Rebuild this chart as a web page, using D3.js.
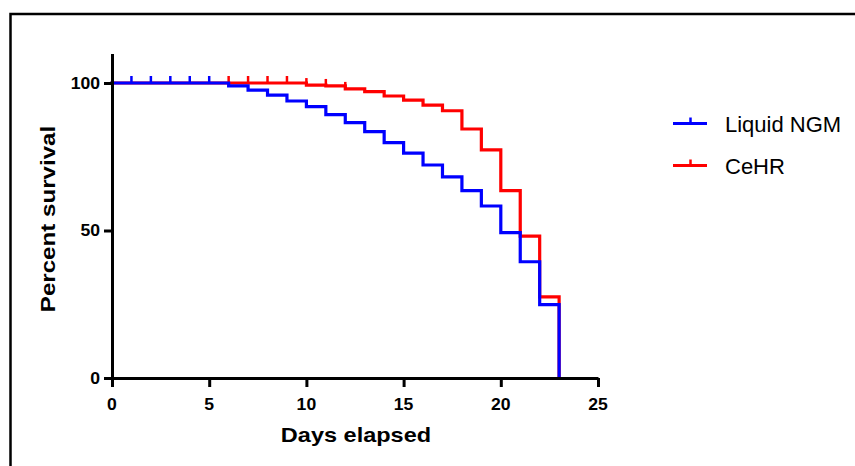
<!DOCTYPE html>
<html>
<head>
<meta charset="utf-8">
<script src="https://cdn.jsdelivr.net/npm/d3@7/dist/d3.min.js"></script>
<style>
  html, body { margin: 0; padding: 0; background: #fff; }
  svg { display: block; }
  text { font-family: "Liberation Sans", Arial, Helvetica, sans-serif; }
</style>
</head>
<body>
<svg id="chart" width="855" height="466"></svg>
<script>
// ---- Data ----
const seriesNames = ["Liquid NGM", "CeHR"];
const seriesColors = ["#0000FF", "#FF0000"];

// Step points: [day, percent survival] (value holds until the next day)
const liquidDays = [0, 6, 7, 8, 9, 10, 11, 12, 13, 14, 15, 16, 17, 18, 19, 20, 21, 22, 23];
const liquidSurvival = [100, 99.0, 97.6, 95.9, 93.9, 92.0, 89.3, 86.6, 83.5, 79.8, 76.2, 72.2, 68.2, 63.5, 58.3, 49.3, 39.4, 24.9, 0];
const liquidCensorDays = [1, 2, 3, 4, 5];

const cehrDays = [0, 10, 11, 12, 13, 14, 15, 16, 17, 18, 19, 20, 21, 22, 23];
const cehrSurvival = [100, 99.3, 99.0, 98.0, 97.1, 95.6, 94.2, 92.5, 90.6, 84.4, 77.3, 63.5, 48.1, 27.5, 0];
const cehrCensorDays = [6, 7, 8, 9, 10, 11, 12];

const xTicks = [0, 5, 10, 15, 20, 25];
const yTicks = [0, 50, 100];
const xLabel = "Days elapsed";
const yLabel = "Percent survival";

// ---- Drawing ----
const svg = d3.select("#chart");

// outer frame (top and left edges visible)
svg.append("path")
  .attr("d", "M10.5,466 L10.5,14 L855,14")
  .attr("fill", "none").attr("stroke", "#000").attr("stroke-width", 2.5);

const x = d3.scaleLinear().domain([0, 25]).range([112, 598]);
const y = d3.scaleLinear().domain([0, 110]).range([378, 53.5]);

function survAt(days, vals, t) {
  let v = vals[0];
  for (let i = 0; i < days.length; i++) if (days[i] <= t) v = vals[i];
  return v;
}

const line = d3.line().x(d => x(d[0])).y(d => y(d[1])).curve(d3.curveStepAfter);

const series = [
  { days: cehrDays, vals: cehrSurvival, censor: cehrCensorDays, color: seriesColors[1] },
  { days: liquidDays, vals: liquidSurvival, censor: liquidCensorDays, color: seriesColors[0] }
];

series.forEach(s => {
  const pts = s.days.map((d, i) => [d, s.vals[i]]);
  svg.append("path")
    .attr("d", line(pts))
    .attr("fill", "none")
    .attr("stroke", s.color)
    .attr("stroke-width", 3.2)
    .attr("stroke-linejoin", "miter")
    .attr("stroke-linecap", "square");
  svg.append("g").selectAll("line").data(s.censor).join("line")
    .attr("x1", d => x(d)).attr("x2", d => x(d))
    .attr("y1", d => y(survAt(s.days, s.vals, d)))
    .attr("y2", d => y(survAt(s.days, s.vals, d)) - 7)
    .attr("stroke", s.color).attr("stroke-width", 2.5);
});

// axes
const xAxis = svg.append("g").attr("transform", "translate(0,378)")
  .call(d3.axisBottom(x).tickValues(xTicks).tickSize(9).tickSizeOuter(0).tickFormat(""));
const yAxis = svg.append("g").attr("transform", "translate(112,0)")
  .call(d3.axisLeft(y).tickValues(yTicks).tickSize(8).tickSizeOuter(0).tickFormat(""));
[xAxis, yAxis].forEach(g => {
  g.select(".domain").attr("stroke", "#000").attr("stroke-width", 3);
  g.selectAll(".tick line").attr("stroke", "#000").attr("stroke-width", 3);
});

// tick labels
svg.append("g").selectAll("text").data(xTicks).join("text")
  .attr("transform", d => `translate(${x(d)},409.5) scale(1.1,1)`)
  .attr("text-anchor", "middle")
  .attr("font-size", 16).attr("font-weight", "bold").attr("fill", "#000")
  .text(d => d);

svg.append("g").selectAll("text").data(yTicks).join("text")
  .attr("transform", d => `translate(100,${y(d) + 5.5}) scale(1.1,1)`)
  .attr("text-anchor", "end")
  .attr("font-size", 16).attr("font-weight", "bold").attr("fill", "#000")
  .text(d => d);

// axis titles
svg.append("text")
  .attr("transform", "translate(356,442) scale(1.12,1)")
  .attr("text-anchor", "middle")
  .attr("font-size", 21).attr("font-weight", "bold").attr("fill", "#000")
  .text(xLabel);

svg.append("text")
  .attr("transform", "translate(55,219) rotate(-90) scale(1.15,1)")
  .attr("text-anchor", "middle")
  .attr("font-size", 21).attr("font-weight", "bold").attr("fill", "#000")
  .text(yLabel);

// legend
const legendY = [123.5, 165.5];
seriesNames.forEach((name, i) => {
  const g = svg.append("g");
  g.append("line").attr("x1", 673).attr("x2", 707)
    .attr("y1", legendY[i]).attr("y2", legendY[i])
    .attr("stroke", seriesColors[i]).attr("stroke-width", 3);
  g.append("line").attr("x1", 690.5).attr("x2", 690.5)
    .attr("y1", legendY[i]).attr("y2", legendY[i] - 6)
    .attr("stroke", seriesColors[i]).attr("stroke-width", 2.5);
  g.append("text").attr("x", 725).attr("y", legendY[i] + 8)
    .attr("font-size", 22).attr("fill", "#000")
    .text(name);
});
</script>
</body>
</html>
